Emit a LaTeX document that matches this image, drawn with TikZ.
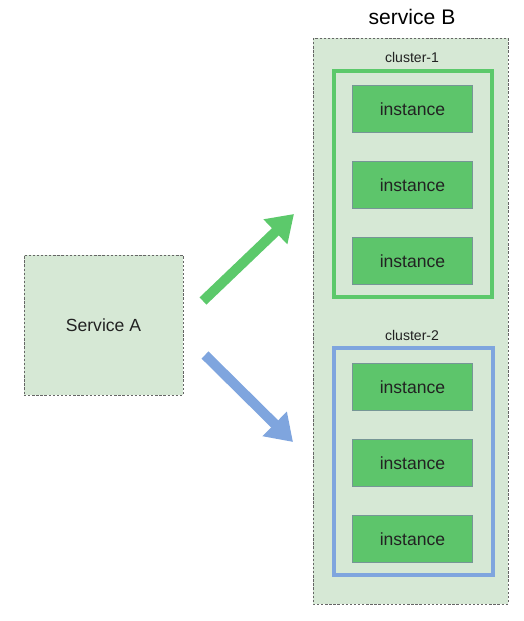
\documentclass[tikz,border=0pt]{standalone}
\usepackage{fontspec}
\setmainfont{Liberation Sans}
\usetikzlibrary{arrows.meta}
\definecolor{paleGreen}{RGB}{214,232,213}
\definecolor{instGreen}{RGB}{93,197,107}
\definecolor{instEdge}{RGB}{118,150,150}
\definecolor{clusterGreen}{RGB}{92,201,107}
\definecolor{clusterBlue}{RGB}{127,165,222}
\definecolor{inkGray}{RGB}{34,34,34}

\begin{document}
\begin{tikzpicture}[x=0.03cm,y=-0.03cm,
  dashbox/.style={draw=black!60,fill=paleGreen,line width=0.6pt,dash pattern=on 2pt off 1.5pt},
  inst/.style={draw=instEdge,fill=instGreen,line width=0.6pt,minimum width=3.6cm,minimum height=1.42cm,
    text=inkGray,font=\fontsize{15}{18}\selectfont,inner sep=0pt},
  fatarrow/.style={line width=8.5pt,-{Triangle[length=22pt,width=28pt]}}]
\useasboundingbox (0,0) rectangle (523,621);
% service A
\node[dashbox,minimum width=4.77cm,minimum height=4.2cm,text=inkGray,
  font=\fontsize{15}{18}\selectfont] (svcA) at (103.5,325) {Service A};
% service B
\draw[dashbox] (313,38) rectangle (508,604);
\node[font=\fontsize{18}{22}\selectfont,text=black] (svcB) at (412,17) {service B};
% cluster-1
\draw[draw=clusterGreen,line width=3.2pt] (334,71) rectangle (492,297);
\node[font=\fontsize{12}{14}\selectfont,text=inkGray] (cl1) at (412,57) {cluster-1};
\node[inst] (i11) at (412.5,109) {instance};
\node[inst] (i12) at (412.5,185) {instance};
\node[inst] (i13) at (412.5,261) {instance};
% cluster-2
\draw[draw=clusterBlue,line width=3.2pt] (334,348) rectangle (493,575);
\node[font=\fontsize{12}{14}\selectfont,text=inkGray] (cl2) at (412,335) {cluster-2};
\node[inst] (i21) at (412.5,387) {instance};
\node[inst] (i22) at (412.5,463) {instance};
\node[inst] (i23) at (412.5,539) {instance};
% arrows
\coordinate (g1) at (203,301);
\coordinate (g2) at (294,214);
\coordinate (b1) at (205,355);
\coordinate (b2) at (293,442);
\draw[fatarrow,draw=clusterGreen,fill=clusterGreen] (g1) -- (g2);
\draw[fatarrow,draw=clusterBlue,fill=clusterBlue] (b1) -- (b2);
\end{tikzpicture}
\end{document}
